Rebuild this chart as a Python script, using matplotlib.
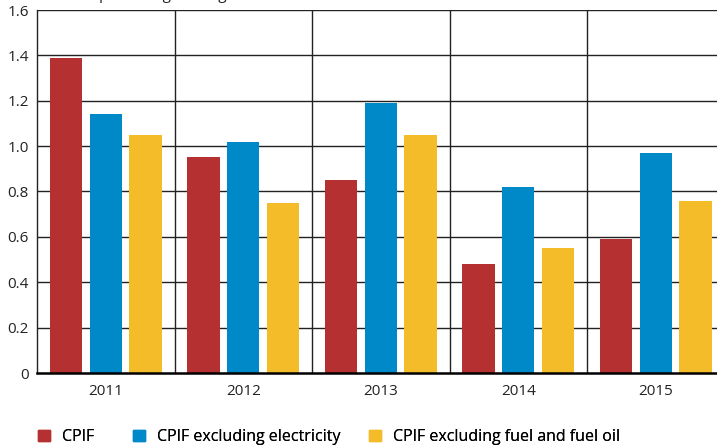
#!/usr/bin/env python3
"""
Grouped bar chart of CPIF variants, 2011-2015.
"""

import matplotlib
matplotlib.use("Agg")
import matplotlib.pyplot as plt
from matplotlib.patches import Patch
import numpy as np

years = ["2011", "2012", "2013", "2014", "2015"]
series_names = ["CPIF", "CPIF excluding electricity", "CPIF excluding fuel and fuel oil"]
cpif = [1.39, 0.95, 0.85, 0.48, 0.59]
cpif_ex_electricity = [1.14, 1.02, 1.19, 0.82, 0.97]
cpif_ex_fuel = [1.05, 0.75, 1.05, 0.55, 0.76]
y_ticks = [0, 0.2, 0.4, 0.6, 0.8, 1.0, 1.2, 1.4, 1.6]
y_ticklabels = ["0", "0.2", "0.4", "0.6", "0.8", "1.0", "1.2", "1.4", "1.6"]

colors = ["#b53030", "#0089c9", "#f4bc28"]

plt.rcParams["font.family"] = ["Open Sans", "DejaVu Sans"]
plt.rcParams["font.size"] = 11

fig = plt.figure(figsize=(7.17, 4.48), dpi=100)
ax = fig.add_axes((37 / 717, 75 / 448, 687.5 / 717, 363 / 448))

x = np.arange(len(years))
width = 0.235
offsets = [-0.29, 0.0, 0.29]
for values, off, color, name in zip([cpif, cpif_ex_electricity, cpif_ex_fuel],
                                    offsets, colors, series_names):
    ax.bar(x + off, values, width, color=color, label=name, zorder=3)

ax.set_xlim(-0.5, len(years) - 0.5)
ax.set_ylim(0, 1.6)
ax.set_yticks(y_ticks)
ax.set_yticklabels(y_ticklabels)
ax.set_xticks(x)
ax.set_xticklabels(years)

# horizontal grid plus separators between the years
for yv in y_ticks[1:]:
    ax.axhline(yv, color="#222222", lw=1.0, zorder=1)
for xv in np.arange(0.5, len(years) - 0.5, 1.0):
    ax.axvline(xv, color="#222222", lw=1.0, zorder=1)

for side in ("top", "right"):
    ax.spines[side].set_visible(False)
ax.spines["left"].set_linewidth(1.0)
ax.spines["left"].set_color("#222222")
ax.spines["bottom"].set_linewidth(1.8)
ax.spines["bottom"].set_zorder(4)
ax.tick_params(axis="both", length=0, colors="#222222")
ax.tick_params(axis="y", pad=6)
ax.tick_params(axis="x", pad=8)

# unit label sits just above the top edge
fig.text(45 / 717, 1 + 1.5 / 448, "Annual percentage change", va="baseline",
         ha="left", color="#222222")

# one legend entry per slot so each sits at its own fixed spot
legend_x = [38, 133, 369]
for lx, c, name in zip(legend_x, colors, series_names):
    leg = fig.legend([Patch(color=c)], [name], loc="center left",
                     bbox_to_anchor=(lx / 717, 11 / 448), frameon=False,
                     prop={"size": 11.5},
                     handlelength=0.75, handleheight=0.75, handletextpad=0.75,
                     borderaxespad=0, borderpad=0.0)
    fig.add_artist(leg)

plt.savefig("out.png", dpi=100)
